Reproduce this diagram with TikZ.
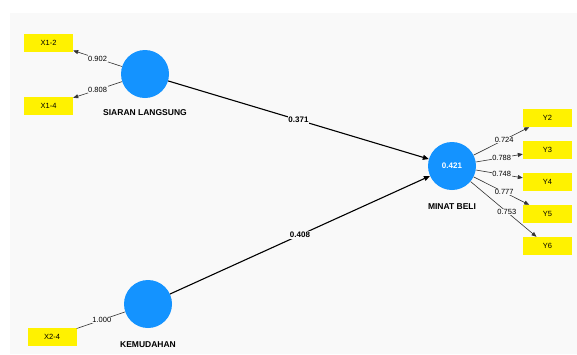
\documentclass[tikz,border=0pt]{standalone}
\usepackage{fontspec}
\setmainfont{Liberation Sans}
\usetikzlibrary{arrows.meta}
\definecolor{panel}{HTML}{F9F9F9}
\definecolor{latent}{HTML}{1493FF}
\tikzset{
	indikator/.style={fill=yellow, minimum width=49pt, minimum height=18pt, inner sep=0pt, font=\fontsize{7.5}{8}\selectfont},
	konstrukt/.style={circle, fill=latent, minimum size=48pt, inner sep=0pt, text=white, font=\fontsize{8}{9}\selectfont\bfseries},
	kname/.style={font=\fontsize{8.5}{10}\selectfont\bfseries},
	ladung/.style={draw=black!80, line width=0.6pt, -{Triangle[length=5pt,width=4pt]}},
	pfad/.style={draw=black, line width=1.1pt, -{Triangle[length=6pt,width=5pt]}},
	wert/.style={fill=panel, inner sep=0.6pt, font=\fontsize{7.5}{8}\selectfont},
	pfadwert/.style={fill=panel, inner sep=0.8pt, font=\fontsize{8}{9}\selectfont\bfseries}
}
\begin{document}
\begin{tikzpicture}[x=1pt,y=-1pt]
\useasboundingbox (0,0) rectangle (577,354);
\fill[panel] (10,13) rectangle (577,354);

%Konstrukte
\node[konstrukt] (sl) at (145,74) {};
\node[konstrukt] (km) at (148,304) {};
\node[konstrukt] (mb) at (452,166) {0.421};
\node[kname] (slname) at (145,113) {SIARAN LANGSUNG};
\node[kname] (kmname) at (148,345) {KEMUDAHAN};
\node[kname] (mbname) at (452,207) {MINAT BELI};

%Indikatoren
\node[indikator] (x12) at (48.5,42.5) {X1-2};
\node[indikator] (x14) at (48.5,106) {X1-4};
\node[indikator] (x24) at (52,337) {X2-4};
\foreach \n/\y in {2/118, 3/150, 4/182, 5/214, 6/246}
{
	\node[indikator] (y\n) at (547.5,\y) {Y\n};
}

%Ladungen
\draw[ladung] (sl) -- node[wert, pos=0.5] {0.902} (x12);
\draw[ladung] (sl) -- node[wert, pos=0.5] {0.808} (x14);
\draw[draw=black!80, line width=0.6pt] (km) -- node[wert, pos=0.48] {1.000} (x24);
\foreach \n/\w in {2/0.724, 3/0.788, 4/0.748, 5/0.777, 6/0.753}
{
	\draw[ladung] (mb) -- node[wert, pos=0.55] {\w} (y\n);
}

%Pfade
\draw[pfad] (sl) -- node[pfadwert, pos=0.5] {0.371} (mb);
\draw[pfad] (km) -- node[pfadwert, pos=0.5] {0.408} (mb);

\end{tikzpicture}
\end{document}
